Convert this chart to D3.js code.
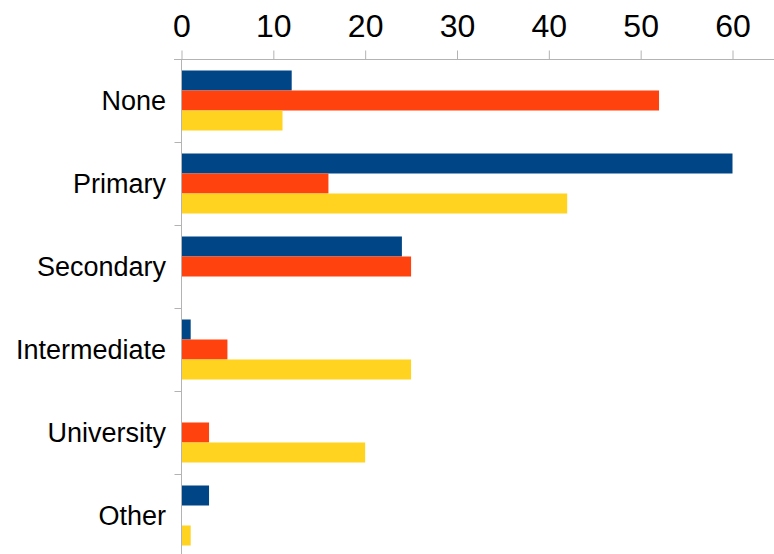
<!DOCTYPE html>
<html><head><meta charset="utf-8">
<script src="https://cdn.jsdelivr.net/npm/d3@7"></script>
<style>body{margin:0;background:#fff;}svg{display:block;font-family:"Liberation Sans",Arial,sans-serif;}</style>
</head><body>
<script>
const categories = ["None","Primary","Secondary","Intermediate","University","Other"];
const seriesNames = ["Series A","Series B","Series C"];
const seriesA = [12,60,24,1,0,3];
const seriesB = [52,16,25,5,3,0];
const seriesC = [11,42,0,25,20,1];
const xTicks = [0,10,20,30,40,50,60];
const colors = ["#004586","#ff420e","#ffd320"];

const W=774,H=554;
const svg=d3.select("body").append("svg").attr("width",W).attr("height",H);
const x=d3.scaleLinear().domain([0,60]).range([181.5,732.5]);
const y=d3.scaleBand().domain(categories).range([59,557]).paddingInner(0.277).paddingOuter(0.1385);
const ys=d3.scaleBand().domain(seriesNames).range([0,y.bandwidth()]);
const y0=d3.scaleBand().domain(categories).range([59,557]);

const series=[seriesA,seriesB,seriesC];
const g=svg.append("g");
series.forEach((vals,si)=>{
  g.selectAll(null).data(categories).enter().append("rect")
   .attr("x",x(0))
   .attr("y",c=>y(c)+ys(seriesNames[si]))
   .attr("width",(c,i)=>x(vals[i])-x(0))
   .attr("height",ys.bandwidth())
   .attr("fill",colors[si]);
});

// top axis
const ax=svg.append("g").attr("transform","translate(0,59.5)")
  .call(d3.axisTop(x).tickValues(xTicks).tickSize(9).tickPadding(14).tickSizeOuter(0));
ax.select(".domain").remove();
ax.append("line").attr("x1",174).attr("x2",W).attr("y1",0).attr("y2",0).attr("stroke","#b3b3b3");
ax.selectAll(".tick line").attr("stroke","#b3b3b3");
ax.selectAll(".tick text").attr("fill","#000").style("font-size","32px").style("font-family","Liberation Sans, Arial, sans-serif");

// left axis
const ay=svg.append("g").attr("transform","translate(181.5,0)");
ay.append("line").attr("x1",0).attr("x2",0).attr("y1",59).attr("y2",H).attr("stroke","#b3b3b3");
ay.selectAll(null).data(categories.slice(1)).enter().append("line")
  .attr("x1",-7).attr("x2",0).attr("y1",c=>Math.round(y0(c))+0.5).attr("y2",c=>Math.round(y0(c))+0.5).attr("stroke","#b3b3b3");
ay.selectAll(null).data(categories).enter().append("text")
  .attr("x",-15.5).attr("y",c=>y0(c)+y0.bandwidth()/2).attr("dy","0.35em")
  .attr("text-anchor","end").style("font-size","27px").attr("fill","#000").text(c=>c);
</script>
</body></html>
